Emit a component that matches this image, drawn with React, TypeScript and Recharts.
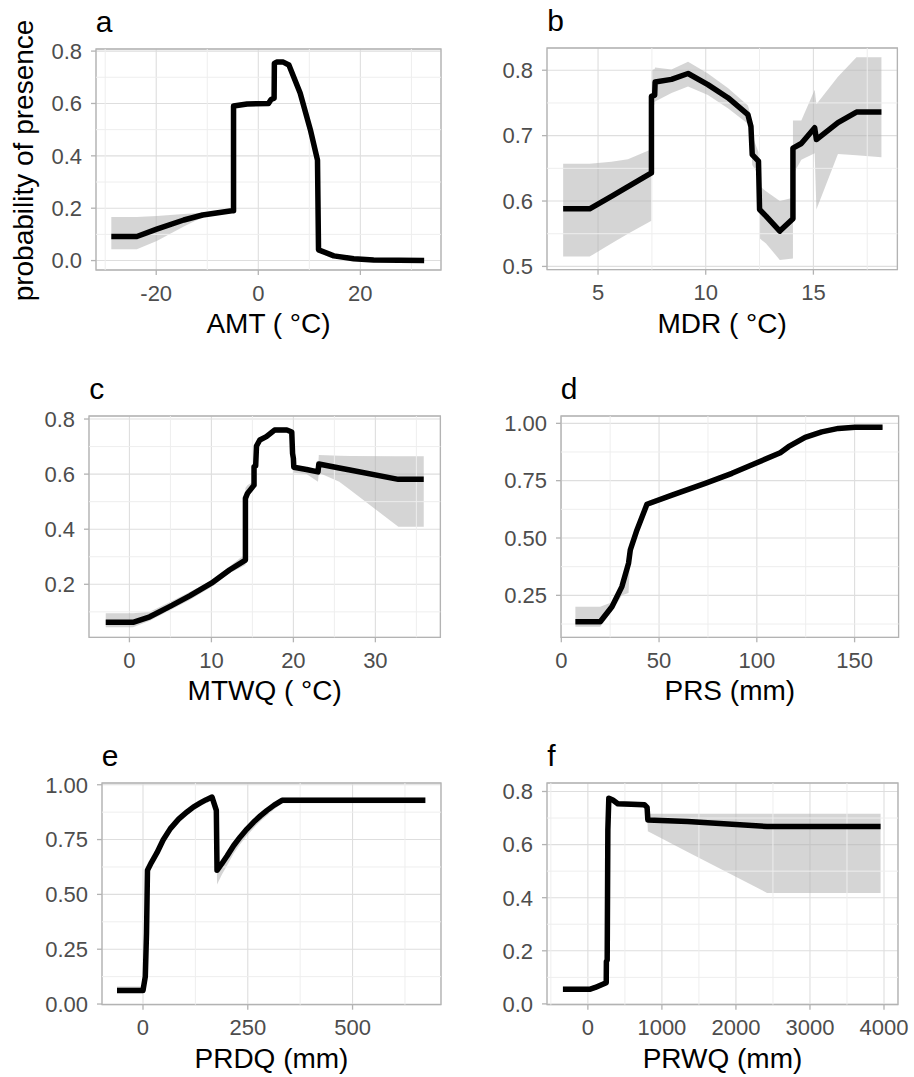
import {
  ComposedChart,
  Line,
  Area,
  XAxis,
  YAxis,
  CartesianGrid,
  ReferenceLine,
  ReferenceArea,
} from "recharts";

const FONT = "'Liberation Sans', Arial, sans-serif";

// a - AMT
const amtX = [-28.8, -23.8, -19.9, -14.6, -10.9, -5.2, -4.85, -4.85, -2.2, 2.0, 2.5, 3.1, 3.15, 3.6, 4.9, 6.0, 8.2, 10.2, 11.6, 11.8, 14.8, 18.7, 22.6, 32.5];
const amtY = [0.092, 0.092, 0.12, 0.155, 0.174, 0.19, 0.19, 0.59, 0.598, 0.6, 0.615, 0.62, 0.753, 0.758, 0.758, 0.747, 0.64, 0.5, 0.384, 0.041, 0.018, 0.007, 0.002, 0.0];
const amtLo = [0.043, 0.043, 0.075, 0.13, 0.165, 0.183, 0.183, 0.582, 0.59, 0.592, 0.607, 0.612, 0.745, 0.75, 0.75, 0.739, 0.632, 0.492, 0.376, 0.035, 0.013, 0.003, 0.0, -0.002];
const amtHi = [0.166, 0.166, 0.17, 0.178, 0.183, 0.198, 0.198, 0.6, 0.606, 0.608, 0.623, 0.628, 0.761, 0.766, 0.766, 0.755, 0.648, 0.508, 0.392, 0.047, 0.023, 0.011, 0.005, 0.003];

// b - MDR
const mdrX = [3.38, 4.61, 5.62, 6.39, 7.48, 7.48, 7.63, 7.65, 8.41, 9.18, 10.1, 11.03, 11.96, 12.1, 12.16, 12.45, 12.5, 12.8, 13.44, 14.05, 14.05, 14.44, 15.06, 15.14, 16.14, 17.0, 18.16];
const mdrY = [0.588, 0.588, 0.607, 0.622, 0.643, 0.76, 0.762, 0.782, 0.786, 0.795, 0.778, 0.758, 0.732, 0.714, 0.671, 0.661, 0.587, 0.577, 0.554, 0.573, 0.681, 0.688, 0.712, 0.694, 0.72, 0.736, 0.736];
const mdrLo = [0.515, 0.515, 0.535, 0.55, 0.57, 0.745, 0.748, 0.752, 0.765, 0.775, 0.762, 0.742, 0.718, 0.7, 0.655, 0.64, 0.543, 0.535, 0.51, 0.512, 0.64, 0.663, 0.673, 0.587, 0.672, 0.67, 0.667];
const mdrHi = [0.657, 0.657, 0.66, 0.664, 0.679, 0.8, 0.802, 0.804, 0.801, 0.813, 0.795, 0.773, 0.746, 0.73, 0.7, 0.675, 0.623, 0.615, 0.6, 0.605, 0.723, 0.723, 0.77, 0.748, 0.79, 0.82, 0.82];

// c - MTWQ
const mtwqX = [-2.89, 0.44, 2.48, 4.9, 7.35, 10, 12.2, 14.15, 14.15, 14.4, 15.2, 15.2, 15.4, 15.5, 15.9, 16.7, 17.7, 19.2, 19.8, 19.9, 20.0, 20.05, 21.6, 23.0, 23.1, 25.6, 26.9, 32.8, 35.9];
const mtwqY = [0.062, 0.062, 0.082, 0.119, 0.158, 0.204, 0.252, 0.288, 0.512, 0.53, 0.56, 0.627, 0.63, 0.702, 0.724, 0.736, 0.76, 0.76, 0.753, 0.675, 0.657, 0.625, 0.617, 0.608, 0.637, 0.622, 0.615, 0.581, 0.581];
const mtwqLo = [0.044, 0.044, 0.068, 0.105, 0.143, 0.19, 0.24, 0.27, 0.5, 0.52, 0.55, 0.617, 0.62, 0.692, 0.714, 0.726, 0.75, 0.75, 0.743, 0.665, 0.647, 0.605, 0.6, 0.572, 0.605, 0.572, 0.543, 0.409, 0.409];
const mtwqHi = [0.095, 0.095, 0.1, 0.135, 0.172, 0.215, 0.265, 0.31, 0.55, 0.56, 0.575, 0.637, 0.64, 0.712, 0.734, 0.746, 0.77, 0.77, 0.763, 0.685, 0.667, 0.635, 0.625, 0.615, 0.669, 0.667, 0.666, 0.665, 0.665];

// d - PRS
const prsX = [7.2, 19.9, 25.9, 31, 34.4, 35.3, 38.7, 43.8, 56.6, 73.6, 87.3, 100, 112, 116.2, 124.7, 133.2, 141.7, 150.3, 164.3];
const prsY = [0.135, 0.135, 0.2, 0.288, 0.39, 0.448, 0.535, 0.647, 0.687, 0.738, 0.782, 0.828, 0.872, 0.898, 0.939, 0.963, 0.978, 0.983, 0.983];
const prsLo = [0.113, 0.113, 0.18, 0.25, 0.26, 0.43, 0.525, 0.635, 0.677, 0.73, 0.775, 0.82, 0.865, 0.89, 0.931, 0.955, 0.97, 0.975, 0.975];
const prsHi = [0.2, 0.2, 0.22, 0.3, 0.4, 0.46, 0.545, 0.66, 0.697, 0.746, 0.79, 0.835, 0.879, 0.905, 0.946, 0.97, 0.985, 0.99, 0.99];

// e - PRDQ
const prdqX = [-62, 0, 5.5, 8.4, 10.7, 20, 33.4, 48, 65.2, 85, 105, 120, 136.8, 150, 164.7, 175, 176.6, 188, 200.5, 216, 232, 248, 264, 280, 296, 313, 331.7, 673.7];
const prdqY = [0.062, 0.062, 0.125, 0.323, 0.61, 0.645, 0.69, 0.748, 0.8, 0.843, 0.876, 0.898, 0.917, 0.931, 0.944, 0.883, 0.61, 0.64, 0.675, 0.722, 0.762, 0.798, 0.83, 0.858, 0.883, 0.907, 0.929, 0.929];
const prdqLo = [0.05, 0.05, 0.11, 0.3, 0.59, 0.632, 0.678, 0.737, 0.79, 0.833, 0.866, 0.888, 0.908, 0.922, 0.935, 0.86, 0.545, 0.59, 0.632, 0.685, 0.73, 0.768, 0.802, 0.833, 0.86, 0.888, 0.916, 0.916];
const prdqHi = [0.08, 0.08, 0.14, 0.34, 0.625, 0.656, 0.7, 0.758, 0.81, 0.852, 0.884, 0.906, 0.925, 0.939, 0.952, 0.89, 0.62, 0.648, 0.682, 0.728, 0.768, 0.804, 0.836, 0.864, 0.889, 0.913, 0.942, 0.942];

// f - PRWQ
const prwqX = [-337, 23, 100, 248, 250, 261, 270, 283, 337, 404, 764, 800, 810, 1348, 2420, 3954];
const prwqY = [0.055, 0.055, 0.062, 0.08, 0.16, 0.165, 0.656, 0.775, 0.768, 0.754, 0.75, 0.74, 0.693, 0.687, 0.668, 0.668];
const prwqLo = [0.045, 0.045, 0.052, 0.07, 0.15, 0.155, 0.645, 0.765, 0.758, 0.744, 0.74, 0.73, 0.65, 0.572, 0.418, 0.418];
const prwqHi = [0.065, 0.065, 0.072, 0.09, 0.17, 0.175, 0.666, 0.785, 0.778, 0.764, 0.76, 0.75, 0.716, 0.716, 0.716, 0.716];

const panels = [
  {
    letter: "a", title: "AMT ( °C)", xs: amtX, ys: amtY, lo: amtLo, hi: amtHi,
    xDomain: [-31.8, 35.8], yDomain: [-0.036, 0.808],
    xTicks: [-20, 0, 20], yTicks: [0, 0.2, 0.4, 0.6, 0.8],
    xMinor: [-30, -10, 10, 30], yMinor: [0.1, 0.3, 0.5, 0.7], digits: 1,
    box: { left: 95.7, top: 49, width: 345, height: 221 },
  },
  {
    letter: "b", title: "MDR ( °C)", xs: mdrX, ys: mdrY, lo: mdrLo, hi: mdrHi,
    xDomain: [2.63, 18.9], yDomain: [0.495, 0.834],
    xTicks: [5, 10, 15], yTicks: [0.5, 0.6, 0.7, 0.8],
    xMinor: [7.5, 12.5, 17.5], yMinor: [0.55, 0.65, 0.75], digits: 1,
    box: { left: 547.3, top: 48.3, width: 350.4, height: 221.7 },
  },
  {
    letter: "c", title: "MTWQ ( °C)", xs: mtwqX, ys: mtwqY, lo: mtwqLo, hi: mtwqHi,
    xDomain: [-4.93, 37.93], yDomain: [0.0076, 0.811],
    xTicks: [0, 10, 20, 30], yTicks: [0.2, 0.4, 0.6, 0.8],
    xMinor: [5, 15, 25, 35], yMinor: [0.1, 0.3, 0.5, 0.7], digits: 1,
    box: { left: 89.3, top: 416, width: 351.4, height: 221.3 },
  },
  {
    letter: "d", title: "PRS (mm)", xs: prsX, ys: prsY, lo: prsLo, hi: prsHi,
    xDomain: [-0.15, 172.5], yDomain: [0.067, 1.032],
    xTicks: [0, 50, 100, 150], yTicks: [0.25, 0.5, 0.75, 1.0],
    xMinor: [25, 75, 125], yMinor: [0.125, 0.375, 0.625, 0.875], digits: 2,
    box: { left: 560.7, top: 416, width: 337.6, height: 221.3 },
  },
  {
    letter: "e", title: "PRDQ (mm)", xs: prdqX, ys: prdqY, lo: prdqLo, hi: prdqHi,
    xDomain: [-97.8, 711], yDomain: [-0.003, 1.008],
    xTicks: [0, 250, 500], yTicks: [0, 0.25, 0.5, 0.75, 1.0],
    xMinor: [125, 375, 625], yMinor: [0.125, 0.375, 0.625, 0.875], digits: 2,
    box: { left: 101.7, top: 783.3, width: 339, height: 221.7 },
  },
  {
    letter: "f", title: "PRWQ (mm)", xs: prwqX, ys: prwqY, lo: prwqLo, hi: prwqHi,
    xDomain: [-552, 4189], yDomain: [-0.003, 0.832],
    xTicks: [0, 1000, 2000, 3000, 4000], yTicks: [0, 0.2, 0.4, 0.6, 0.8],
    xMinor: [-500, 500, 1500, 2500, 3500], yMinor: [0.1, 0.3, 0.5, 0.7], digits: 1,
    box: { left: 547.3, top: 783.3, width: 351, height: 221.7 },
  },
];

const YW = 90;
const TOP = 10;
const RIGHT = 14;
const XH = 72;
const TICK_FONT = 22;

function XTick({ x, y, payload }: any) {
  return (
    <text x={x} y={y} dy="0.71em" textAnchor="middle" fill="#4D4D4D" fontSize={TICK_FONT} fontFamily={FONT}>
      {payload.value}
    </text>
  );
}

function makeYTick(digits: number) {
  return function YTick({ x, y, payload }: any) {
    return (
      <text x={x} y={y} dy="0.355em" textAnchor="end" fill="#4D4D4D" fontSize={TICK_FONT} fontFamily={FONT}>
        {Number(payload.value).toFixed(digits)}
      </text>
    );
  };
}

function Panel({ p }: any) {
  const rows = p.xs.map((x: number, i: number) => ({
    x,
    y: p.ys[i],
    band: [p.lo[i], p.hi[i]],
  }));
  const YTick = makeYTick(p.digits);
  return (
    <div style={{ position: "absolute", left: p.box.left - YW, top: p.box.top - TOP }}>
      <ComposedChart
        width={p.box.width + YW + RIGHT}
        height={p.box.height + TOP + XH}
        data={rows}
        margin={{ top: TOP, right: RIGHT, bottom: 0, left: 0 }}
      >
        <CartesianGrid stroke="#DEDEDE" strokeWidth={1.1} />
        {p.xMinor.map((v: number) => (
          <ReferenceLine key={"vx" + v} x={v} stroke="#EEEEEE" strokeWidth={1} />
        ))}
        {p.yMinor.map((v: number) => (
          <ReferenceLine key={"hy" + v} y={v} stroke="#EEEEEE" strokeWidth={1} />
        ))}
        <XAxis
          type="number"
          dataKey="x"
          domain={p.xDomain}
          ticks={p.xTicks}
          allowDataOverflow
          height={XH}
          axisLine={false}
          tickSize={5}
          tickMargin={10}
          tickLine={{ stroke: "#B3B3B3", strokeWidth: 1.3 }}
          tick={<XTick />}
          label={{
            value: p.title,
            position: "insideBottom",
            offset: 9,
            style: { fill: "#000", fontSize: 28, fontFamily: FONT },
          }}
        />
        <YAxis
          type="number"
          domain={p.yDomain}
          ticks={p.yTicks}
          allowDataOverflow
          width={YW}
          axisLine={false}
          tickSize={5}
          tickMargin={9}
          tickLine={{ stroke: "#B3B3B3", strokeWidth: 1.3 }}
          tick={<YTick />}
        />
        <Area
          dataKey="band"
          type="linear"
          stroke="none"
          fill="#B3B3B3"
          fillOpacity={0.55}
          isAnimationActive={false}
        />
        <Line
          dataKey="y"
          type="linear"
          stroke="#000"
          strokeWidth={5.5}
          strokeLinejoin="round"
          dot={false}
          isAnimationActive={false}
        />
        <ReferenceArea
          x1={p.xDomain[0]}
          x2={p.xDomain[1]}
          y1={p.yDomain[0]}
          y2={p.yDomain[1]}
          fill="none"
          stroke="#B3B3B3"
          strokeWidth={1.3}
        />
      </ComposedChart>
    </div>
  );
}

export default function App() {
  return (
    <div
      style={{
        position: "absolute",
        left: 0,
        top: 0,
        width: 914,
        height: 1077,
        background: "#fff",
        fontFamily: FONT,
      }}
    >
      {panels.map((p) => (
        <Panel key={p.letter} p={p} />
      ))}
      <svg
        width={914}
        height={1077}
        style={{ position: "absolute", left: 0, top: 0, pointerEvents: "none" }}
      >
        {panels.map((p) => (
          <text
            key={p.letter}
            x={p.box.left}
            y={p.box.top - 17}
            fontSize={30}
            fontFamily={FONT}
            fill="#000"
          >
            {p.letter}
          </text>
        ))}
        <text
          transform="translate(33,160.5) rotate(-90)"
          textAnchor="middle"
          fontSize={28}
          fontFamily={FONT}
          fill="#000"
        >
          probability of presence
        </text>
      </svg>
    </div>
  );
}
